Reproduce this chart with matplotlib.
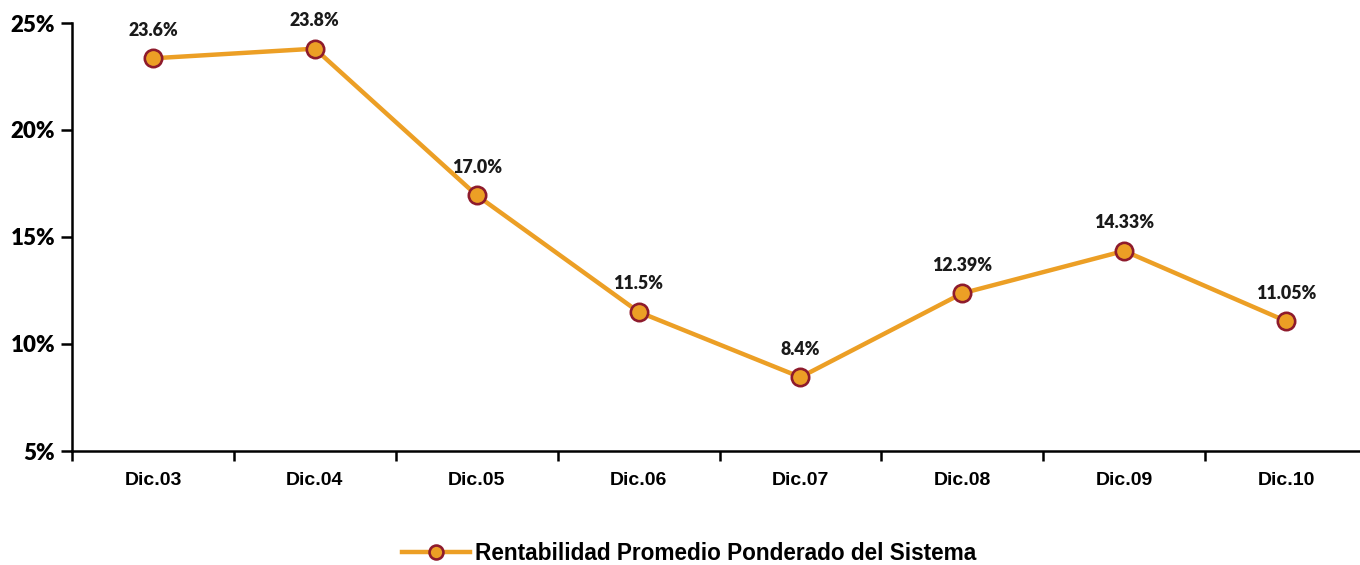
import matplotlib.pyplot as plt
import numpy as np

# data
periods = ["Dic.03", "Dic.04", "Dic.05", "Dic.06", "Dic.07", "Dic.08", "Dic.09", "Dic.10"]
rentabilidad = [23.35, 23.8, 16.95, 11.5, 8.45, 12.37, 14.35, 11.07]
point_labels = ["23.6%", "23.8%", "17.0%", "11.5%", "8.4%", "12.39%", "14.33%", "11.05%"]
yticks = [5, 10, 15, 20, 25]

line_color = "#EC9F25"
edge_color = "#8E1B2C"
label_font = ["Lato", "DejaVu Sans"]

fig = plt.figure(figsize=(13.6, 5.65), dpi=100)
ax = fig.add_axes([72/1360, 114/565, 1295/1360, 428/565])

x = np.arange(len(periods))
ax.plot(x, rentabilidad, color=line_color, lw=3.2, marker="o", ms=12.5,
        mfc=line_color, mec=edge_color, mew=1.9,
        label="Rentabilidad Promedio Ponderado del Sistema")

for xi, yi, lab in zip(x, rentabilidad, point_labels):
    ax.annotate(lab, (xi, yi), xytext=(0, 14), textcoords="offset points",
                ha="center", va="bottom", fontsize=12.8, fontweight="heavy",
                family=label_font, color="#1a1a1a")

ax.set_xlim(-0.5, len(periods) - 0.5)
ax.set_ylim(5, 25)
ax.set_yticks(yticks)
ax.set_yticklabels([f"{v}%" for v in yticks], fontsize=16, fontweight="heavy",
                   family=label_font)

# category labels centred, ticks on the boundaries
ax.set_xticks(x)
ax.set_xticklabels(periods, fontsize=14, fontweight="bold", family="Liberation Sans")
ax.set_xticks(np.arange(-0.5, len(periods)), minor=True)
ax.tick_params(axis="x", which="major", length=0, pad=15)
ax.tick_params(axis="x", which="minor", length=7, width=1.8, direction="out")
ax.tick_params(axis="y", length=8, width=1.8, direction="out", pad=4)

for side in ["top", "right"]:
    ax.spines[side].set_visible(False)
for side in ["left", "bottom"]:
    ax.spines[side].set_linewidth(1.8)

fig.legend(loc="center", bbox_to_anchor=(689/1360, 1 - 553/565), frameon=False,
           prop={"family": "Liberation Sans", "weight": "bold", "size": 16.3},
           handlelength=3.0, handletextpad=0.2, markerscale=0.8)

fig.savefig("out.png", dpi=100)
